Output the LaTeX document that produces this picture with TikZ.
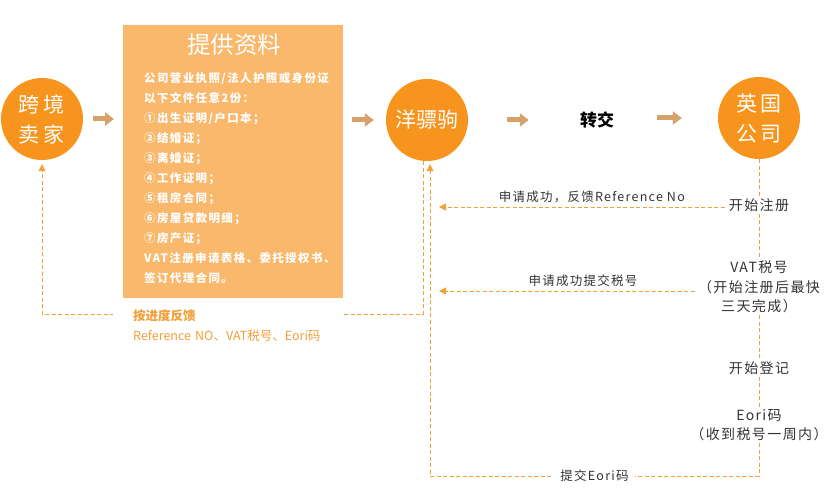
\documentclass[tikz,border=0pt]{standalone}
\usepackage{fontspec}
\setmainfont{Noto Sans CJK SC}
\newfontfamily\docfont{Noto Sans CJK SC}[LetterSpace=12]
\newfontfamily\notefont{Noto Sans CJK SC}[LetterSpace=10]
\usepackage{tikz}
\usetikzlibrary{arrows.meta}

\definecolor{bubble}{HTML}{F7941D}
\definecolor{paper}{HTML}{F9B86B}
\definecolor{pipecol}{HTML}{D4A26A}
\definecolor{dashcol}{HTML}{F2A03A}
\definecolor{note}{HTML}{333333}

\begin{document}
\begin{tikzpicture}[x=1pt, y=-1pt]

% Defined styles
\tikzstyle{bubblenode} = [circle, fill=bubble, minimum size=82pt, inner sep=0pt, text=white, font=\fontsize{21}{30}\selectfont, align=center]
\tikzstyle{docbox} = [rectangle, fill=paper, minimum width=220pt, minimum height=273pt, inner sep=0pt]
\tikzstyle{pipe} = [pipecol, line width=5pt, -{Triangle[length=9pt,width=13pt]}]
\tikzstyle{flowline} = [dashcol, line width=0.8pt, dash pattern=on 4pt off 2.5pt]
\tikzstyle{flow} = [flowline, -{Triangle[length=7pt,width=7pt]}]
\tikzstyle{steplabel} = [text=note, font=\notefont\fontsize{14}{19.5}\selectfont, align=center, inner sep=2pt]
\tikzstyle{flowlabel} = [text=note, font=\notefont\fontsize{12.5}{15}\selectfont, inner sep=1pt]

\useasboundingbox (0,0) rectangle (827,502);

% --- Top row (Left to Right) ---
\node (seller) [bubblenode] at (42,119) {跨\hspace{4pt}境\\卖\hspace{4pt}家};
\node (docs) [docbox, anchor=north west] at (123,25) {};
\node (agent) [bubblenode] at (427,120) {洋骠驹};
\node (transfer) [font=\bfseries\fontsize{17}{17}\selectfont, minimum width=100pt, inner sep=0pt] at (597,120) {转交};
\node (ukco) [bubblenode] at (759,118) {英\hspace{4pt}国\\公\hspace{4pt}司};

% --- Documents in the box ---
\node (doctitle) [text=white, font=\fontsize{23.5}{23.5}\selectfont] at (234,45) {提供资料};
\node (doclist) [anchor=north west, text=white, font=\docfont\bfseries\fontsize{11.5}{20}\selectfont, text width=200pt, align=left, inner sep=0pt] at (144,72) {公司营业执照/法人护照或身份证\\以下文件任意2份：\\①出生证明/户口本；\\②结婚证；\\③离婚证；\\④工作证明；\\⑤租房合同；\\⑥房屋贷款明细；\\⑦房产证；\\VAT注册申请表格、委托授权书、\\签订代理合同。};

% --- Steps below the UK company ---
\node (startreg) [steplabel] at (759,205) {开始注册};
\node (vatno) [steplabel] at (759,287) {VAT税号\\（开始注册后最快\\三天完成）};
\node (startlog) [steplabel] at (759,368) {开始登记};
\node (eori) [steplabel] at (759,425) {Eori码\\（收到税号一周内）};

% --- Block arrows ---
\draw [pipe, shorten <=10pt, shorten >=9pt] (seller.east) -- (seller.east -| docs.west);
\draw [pipe, shorten <=9pt, shorten >=12pt] (agent.west -| docs.east) -- (agent.west);
\draw [pipe, shorten <=39pt, shorten >=18pt] (agent.east) -- (transfer.west);
\draw [pipe, shorten <=10pt, shorten >=36pt] (ukco.west -| transfer.east) -- (ukco.west);

% --- Dashed return paths ---
\draw [flowline] (ukco) -- (startreg) -- (vatno) -- (startlog) -- (eori);
\draw [flow, shorten <=2pt, shorten >=12pt] ([yshift=-2pt]startreg.west) -- ([yshift=-2pt]startreg.west -| agent.south)
  node [flowlabel, above=3pt, pos=0.45] {申请成功，反馈Reference No};
\draw [flow, shorten <=1pt, shorten >=12pt] ([yshift=-4pt]vatno.west) -- ([yshift=-4pt]vatno.west -| agent.south)
  node [flowlabel, above=3pt, pos=0.42] {申请成功提交税号};

\coordinate (eoriturn) at (759,476);
\coordinate (eoriup) at ([xshift=3pt]agent.south);
\draw [flowline] (eori) -- (eoriturn);
\draw [flow, shorten >=3pt] (eoriturn) -- (eoriturn -| eoriup)
  node [flowlabel, midway, fill=white, inner xsep=6pt] {提交Eori码} -- (eoriup);

\coordinate (fbturn) at (423,314);
\draw [flow, shorten >=4pt] ([xshift=-4pt]agent.south) -- (fbturn) -| (seller.south);

% --- Progress note, placed over the return line ---
\node (progress) [anchor=north west, fill=white, text=dashcol, text width=190pt, inner xsep=20pt, inner ysep=6pt, align=left, font=\fontsize{12.5}{20}\selectfont] at (113,304) {{\bfseries 按进度反馈}\\Reference NO、VAT税号、Eori码};

\end{tikzpicture}
\end{document}
